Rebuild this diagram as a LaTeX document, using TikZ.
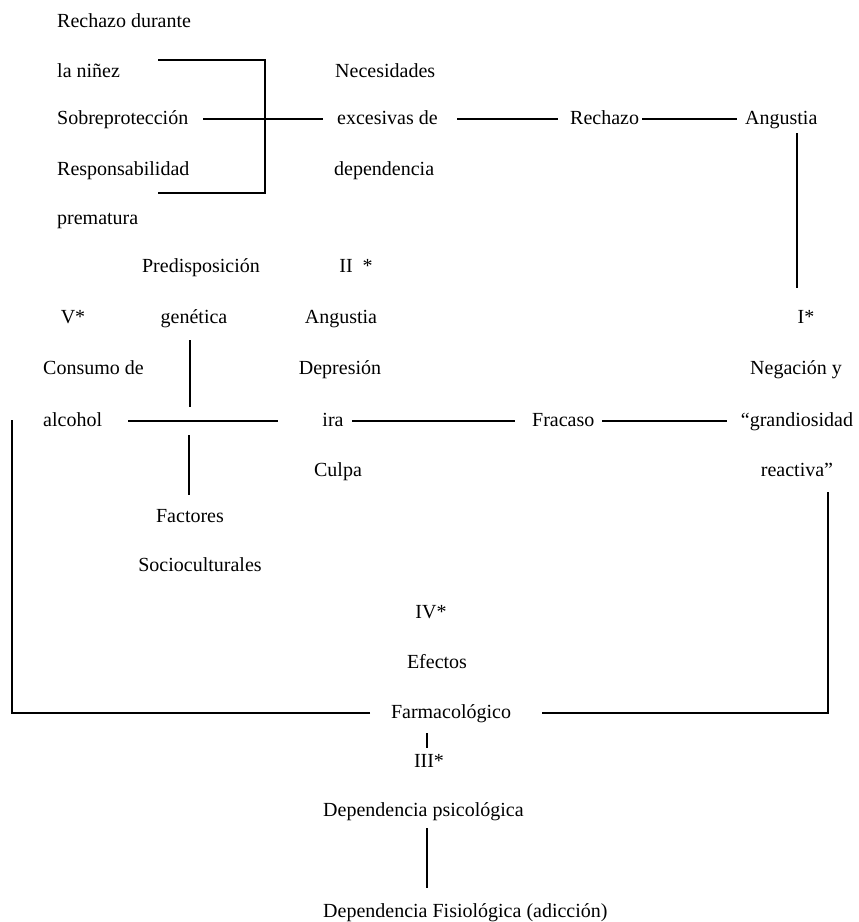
\documentclass[tikz,border=0pt]{standalone}
\usepackage{fontspec}
\setmainfont{Liberation Serif}
\begin{document}
\begin{tikzpicture}[x=1pt,y=-1pt,
  lbl/.style={inner sep=0pt, text height=14pt, text depth=4pt, font=\fontsize{20}{24}\selectfont},
  ln/.style={line width=2.7pt}]
\useasboundingbox[fill=white] (0,0) rectangle (859,922);
% left column
\node[lbl,anchor=west] (n1) at (57,22) {Rechazo durante};
\node[lbl,anchor=west] (n2) at (57,72) {la niñez};
\node[lbl,anchor=west] (n3) at (57,119) {Sobreprotección};
\node[lbl,anchor=west] (n4) at (57,170) {Responsabilidad};
\node[lbl,anchor=west] (n5) at (57,219) {prematura};
% necesidades
\node[lbl,anchor=west] (nec) at (335,72) {Necesidades};
\node[lbl,anchor=west] (exc) at (337,119) {excesivas de};
\node[lbl,anchor=west] (dep) at (334,170) {dependencia};
\node[lbl,anchor=west] (rech) at (570,119) {Rechazo};
\node[lbl,anchor=west] (ang1) at (745,119) {Angustia};
% middle rows
\node[lbl] (pred) at (201,267) {Predisposición};
\node[lbl] (II) at (356,267) {II\ \ *};
\node[lbl] (V) at (73,318) {V*};
\node[lbl] (gen) at (194,318) {genética};
\node[lbl] (ang2) at (341,318) {Angustia};
\node[lbl] (I) at (806,318) {I*};
\node[lbl,anchor=west] (cons) at (43,369) {Consumo de};
\node[lbl] (depr) at (340,369) {Depresión};
\node[lbl] (neg) at (796,369) {Negación y};
\node[lbl,anchor=west] (alc) at (43,421) {alcohol};
\node[lbl] (ira) at (333,421) {ira};
\node[lbl,anchor=west] (frac) at (532,421) {Fracaso};
\node[lbl] (gran) at (797,421) {“grandiosidad};
\node[lbl] (culpa) at (338,471) {Culpa};
\node[lbl] (reac) at (797,471) {reactiva”};
\node[lbl] (fact) at (190,517) {Factores};
\node[lbl] (soc) at (200,566) {Socioculturales};
% bottom
\node[lbl] (IV) at (431,613) {IV*};
\node[lbl] (efec) at (437,663) {Efectos};
\node[lbl] (farm) at (451,713) {Farmacológico};
\node[lbl] (III) at (429,762) {III*};
\node[lbl,anchor=west] (dpsic) at (323,811) {Dependencia psicológica};
\node[lbl,anchor=west] (dfis) at (323,912) {Dependencia Fisiológica (adicción)};
% connector coordinates
\coordinate (brT) at (158,60);
\coordinate (brTR) at (265,60);
\coordinate (brBR) at (265,193);
\coordinate (brB) at (158,193);
\coordinate (sobA) at (203,119);
\coordinate (sobB) at (323,119);
\coordinate (excA) at (457,119);
\coordinate (excB) at (558,119);
\coordinate (recA) at (642,119);
\coordinate (recB) at (737,119);
\coordinate (angA) at (797,133);
\coordinate (angB) at (797,288);
\coordinate (genA) at (190,340);
\coordinate (genB) at (190,407);
\coordinate (alcA) at (128,421);
\coordinate (alcB) at (278,421);
\coordinate (facA) at (189,435);
\coordinate (facB) at (189,495);
\coordinate (iraA) at (352,421);
\coordinate (iraB) at (515,421);
\coordinate (fraA) at (602,421);
\coordinate (fraB) at (727,421);
\coordinate (reA) at (828,492);
\coordinate (reC) at (828,713);
\coordinate (fmR) at (542,713);
\coordinate (fmL) at (370,713);
\coordinate (lC) at (12,713);
\coordinate (lA) at (12,420);
\coordinate (fbA) at (427,733);
\coordinate (fbB) at (427,748);
\coordinate (dpA) at (427,828);
\coordinate (dpB) at (427,888);
% connectors
\draw[ln] (brT) -- (brTR) -- (brBR) -- (brB);
\draw[ln] (sobA) -- (sobB);
\draw[ln] (excA) -- (excB);
\draw[ln] (recA) -- (recB);
\draw[ln] (angA) -- (angB);
\draw[ln] (genA) -- (genB);
\draw[ln] (alcA) -- (alcB);
\draw[ln] (facA) -- (facB);
\draw[ln] (iraA) -- (iraB);
\draw[ln] (fraA) -- (fraB);
\draw[ln] (reA) -- (reC) -- (fmR);
\draw[ln] (fmL) -- (lC) -- (lA);
\draw[ln] (fbA) -- (fbB);
\draw[ln] (dpA) -- (dpB);
\end{tikzpicture}
\end{document}
